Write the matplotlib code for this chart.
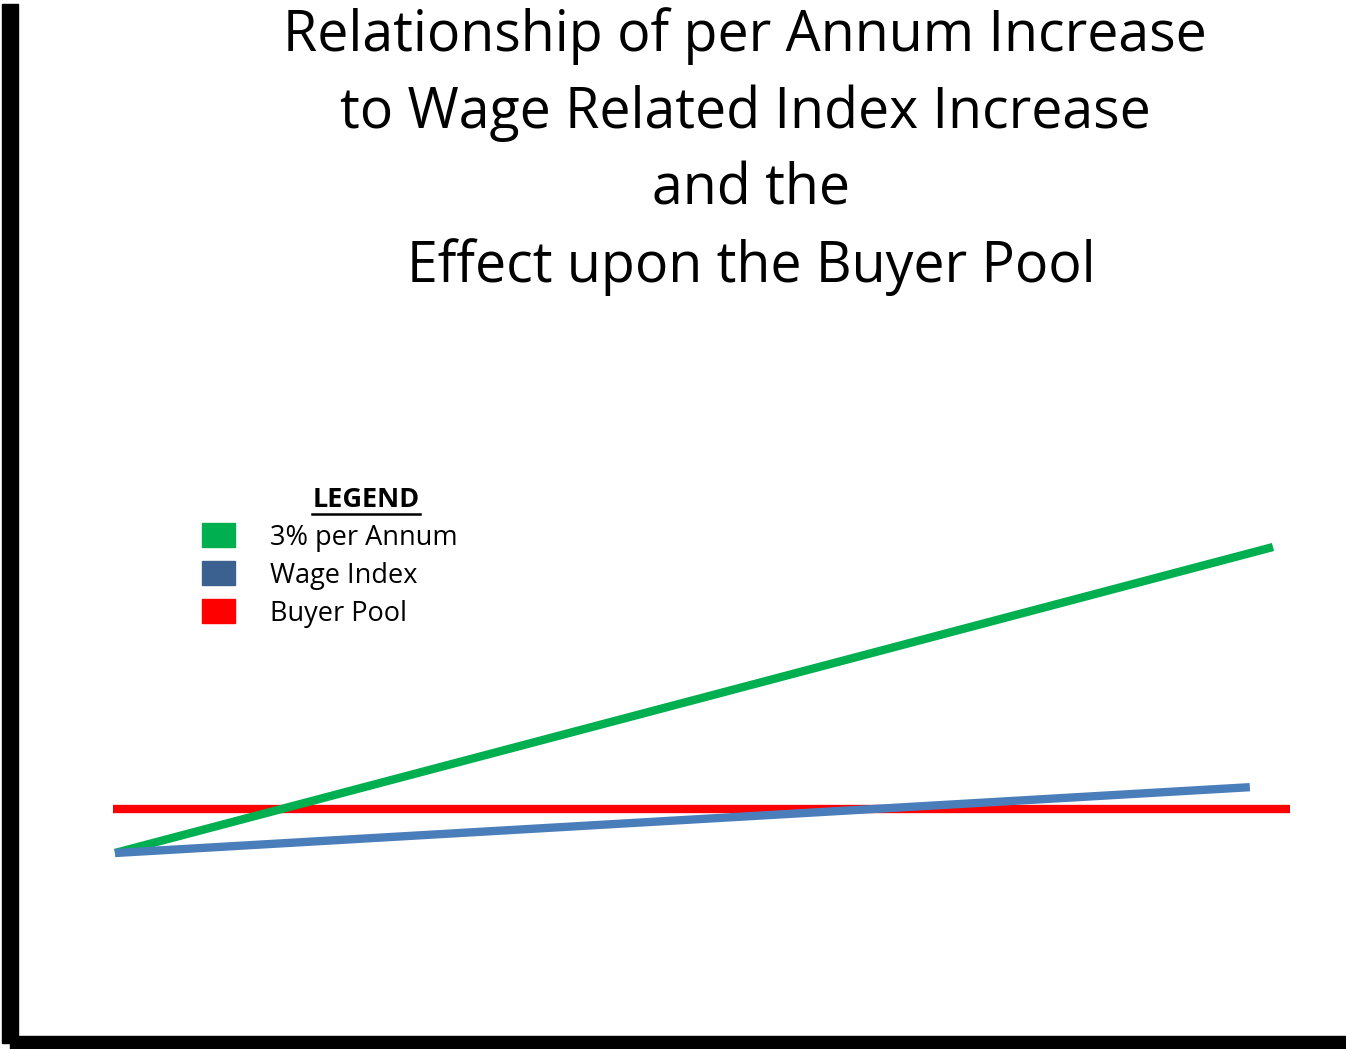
import matplotlib
matplotlib.use("Agg")
import matplotlib.pyplot as plt
from matplotlib.patches import Rectangle
from matplotlib.lines import Line2D

# years on x, index value on y (start = 100)
green_x = [0, 10]
green_y = [100, 134.4]     # 3% per annum
blue_x = [0, 9.8]
blue_y = [100, 107.4]      # wage index
red_x = [-0.02, 10.15]
red_y = [105, 105]         # buyer pool

legend_labels = ["3% per Annum", "Wage Index", "Buyer Pool"]
legend_colors = ["#00B050", "#3A6190", "#FF0000"]
line_colors = ["#00B050", "#4A7EBB", "#FF0000"]

title_lines = ["Relationship of per Annum Increase",
               "to Wage Related Index Increase",
               "and the",
               "Effect upon the Buyer Pool"]

W, H = 1346, 1049
fig = plt.figure(figsize=(W / 100, H / 100), dpi=100)
ax = fig.add_axes([0, 0, 1, 1])
ax.axis("off")

# scale: x 0 at 115px, 10 at 1273px ; y 100 at 853px from top, 134.4 at 547px
px_x = (1273 - 115) / 10.0
px_y = (853 - 547) / 34.4
ax.set_xlim(-115 / px_x, (W - 115) / px_x)
ax.set_ylim(100 - (H - 853) / px_y, 100 + 853 / px_y)

lw = 6.0
ax.plot(red_x, red_y, color=line_colors[2], lw=lw, solid_capstyle="butt")
ax.plot(green_x, green_y, color=line_colors[0], lw=lw, solid_capstyle="butt")
ax.plot(blue_x, blue_y, color=line_colors[1], lw=lw, solid_capstyle="butt")

# black L-shaped axes frame
def frect(x0, y0, x1, y1):
    fig.patches.append(Rectangle((x0 / W, 1 - y1 / H), (x1 - x0) / W, (y1 - y0) / H,
                                 transform=fig.transFigure, color="black", zorder=5))
frect(2, 4, 18, 1043)
frect(10, 1036, W, H)

font = "Open Sans"
title_cx = [745, 745, 751, 751]
for i, t in enumerate(title_lines):
    fig.text(title_cx[i] / W, 1 - (36 + i * 77) / H, t, ha="center", va="center",
             fontsize=40, family=font)

# legend
leg = fig.text(366 / W, 1 - 500 / H, "LEGEND", ha="center", va="center",
               fontsize=19.5, family=font, fontweight="bold")
for i, (lab, c) in enumerate(zip(legend_labels, legend_colors)):
    yc = 535 + i * 38
    fig.patches.append(Rectangle((202 / W, 1 - (yc + 12) / H), 33 / W, 24 / H,
                                 transform=fig.transFigure, color=c))
    fig.text(270 / W, 1 - (yc + 3) / H, lab, ha="left", va="center", fontsize=19.5, family=font)

fig.canvas.draw()
bb = leg.get_window_extent()
fig.lines.append(Line2D([bb.x0 / W, bb.x1 / W], [(bb.y0 - 1) / H, (bb.y0 - 1) / H],
                        transform=fig.transFigure, color="black", lw=1.8))

fig.savefig("out.png", dpi=100)
